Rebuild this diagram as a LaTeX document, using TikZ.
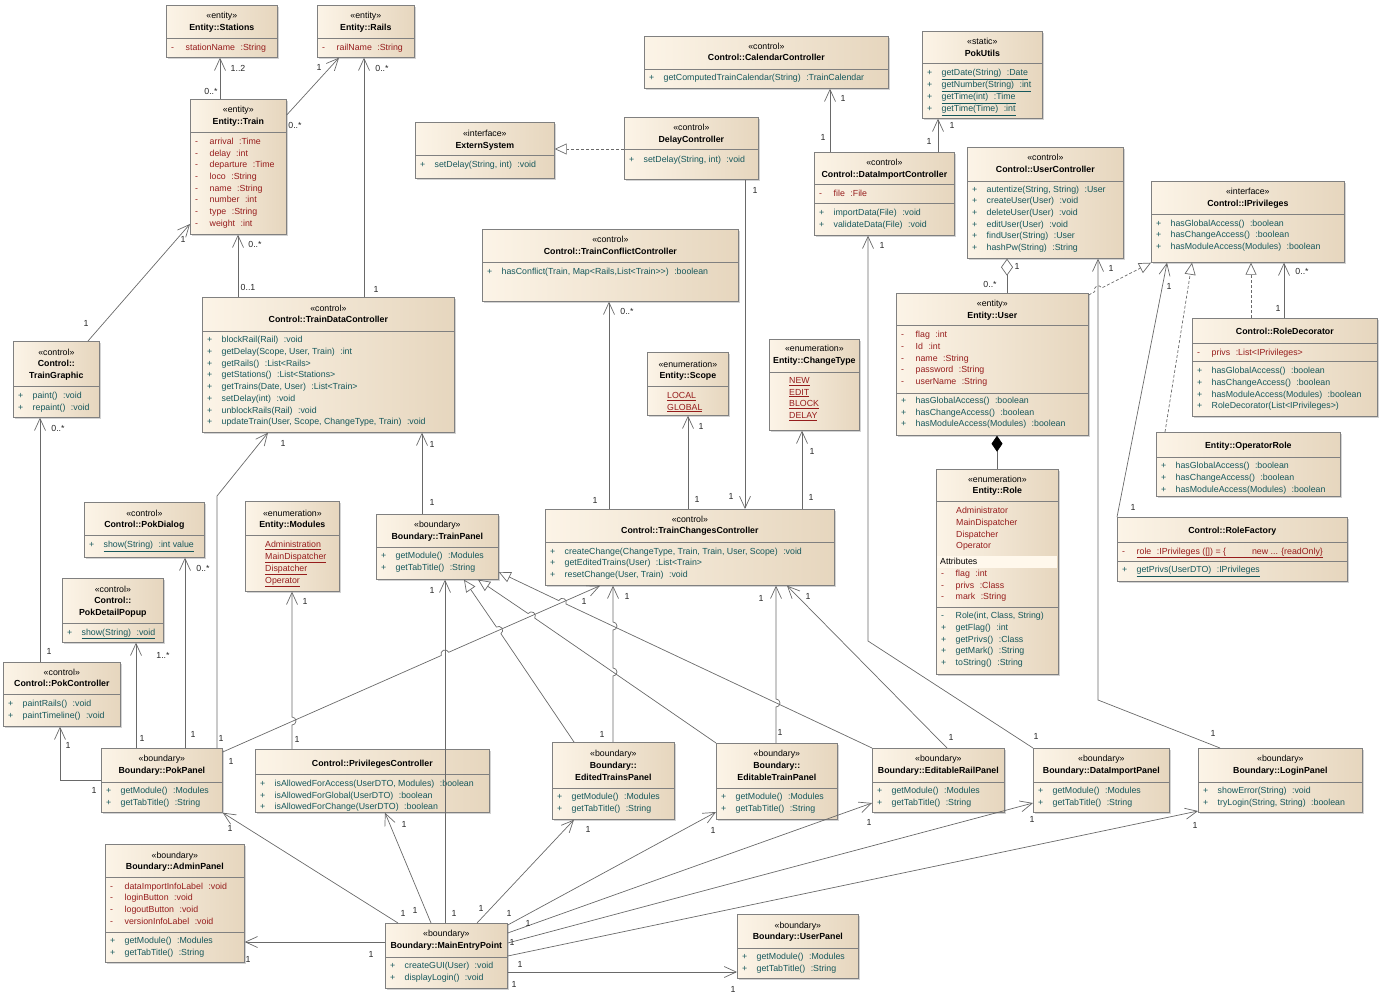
\documentclass[tikz,border=0pt]{standalone}
\usepackage{fontspec}
\setmainfont{Liberation Sans}
\usetikzlibrary{arrows.meta, shadows}

\definecolor{boxlight}{RGB}{252,244,231}
\definecolor{boxdark}{RGB}{230,214,190}
\definecolor{boxline}{RGB}{128,128,128}
\definecolor{linecol}{RGB}{105,105,105}
\definecolor{attrcol}{RGB}{150,28,28}
\definecolor{methcol}{RGB}{22,88,92}
\definecolor{bandcol}{RGB}{255,248,236}

% member line, visibility column + text
\newcommand{\vis}[2]{\makebox[14.5pt][l]{#1}#2}
\newcommand{\ty}[1]{\hspace{5.5pt}:#1}
\newcommand{\ctab}[1]{\begin{tabular}{@{}c@{}}#1\end{tabular}}
\newcommand{\ltab}[1]{\begin{tabular}{@{}l@{}}#1\end{tabular}}
% class box from (x1,y1) to (x2,y2)
\newcommand{\umlbox}[5]{\node[classbox, minimum width={#4-#2}, minimum height={#5-#3}] (#1) at (#2,#3) {};}
\newcommand{\compline}[2]{\draw[sepl] (#1.west |- 0,#2) -- (#1.east |- 0,#2);}

\tikzset{
  every node/.style={font=\fontsize{8.8}{11.7}\selectfont},
  classbox/.style={anchor=north west, inner sep=0, draw=boxline, line width=0.7pt,
    left color=boxlight, right color=boxdark,
    drop shadow={shadow xshift=1.5pt, shadow yshift=-1.5pt, opacity=0.35}},
  hdr/.style={anchor=north, inner sep=0},
  attr/.style={anchor=north west, inner sep=0, text=attrcol},
  meth/.style={anchor=north west, inner sep=0, text=methcol},
  mult/.style={inner sep=0, text=black!85},
  sepl/.style={draw=boxline, line width=0.6pt},
  assoc/.style={draw=linecol, line width=0.7pt, -{Straight Barb[length=12pt,width=11pt]}},
  gen/.style={draw=linecol, line width=0.7pt, -{Triangle[open,length=12pt,width=11pt]}},
  real/.style={gen, dash pattern=on 3pt off 2pt},
  aggr/.style={draw=linecol, line width=0.7pt, {Diamond[open,length=17pt,width=12pt]}-},
  comp/.style={draw=linecol, line width=0.7pt, {Diamond[length=16pt,width=11pt,fill=black,color=black]}-},
}

\begin{document}
\begin{tikzpicture}[x=1pt, y=-1pt]
\useasboundingbox (0,0) rectangle (1380,998);

% entity classes
\umlbox{stations}{166}{5}{277}{57}
\node[hdr] (stationsH) at (stations.north |- 0,10.5) {\ctab{«entity»\\\textbf{Entity::Stations}}};
\compline{stations}{38}
\node[attr] (stationsA) at (171,41.8) {\ltab{\vis{-}{stationName\ty{String}}}};

\umlbox{rails}{317}{5}{414}{57}
\node[hdr] (railsH) at (rails.north |- 0,10.5) {\ctab{«entity»\\\textbf{Entity::Rails}}};
\compline{rails}{38}
\node[attr] (railsA) at (322,41.8) {\ltab{\vis{-}{railName\ty{String}}}};

\umlbox{train}{190}{99}{286}{234}
\node[hdr] (trainH) at (train.north |- 0,104.1) {\ctab{«entity»\\\textbf{Entity::Train}}};
\compline{train}{132}
\node[attr] (trainA) at (195,136.1) {\ltab{\vis{-}{arrival\ty{Time}}\\\vis{-}{delay\ty{int}}\\\vis{-}{departure\ty{Time}}\\\vis{-}{loco\ty{String}}\\\vis{-}{name\ty{String}}\\\vis{-}{number\ty{int}}\\\vis{-}{type\ty{String}}\\\vis{-}{weight\ty{int}}}};

\umlbox{tgraphic}{13}{341}{99}{417}
\node[hdr] (tgraphicH) at (tgraphic.north |- 0,346.8) {\ctab{«control»\\\textbf{Control::}\\\textbf{TrainGraphic}}};
\compline{tgraphic}{386}
\node[meth] (tgraphicM) at (18,390.1) {\ltab{\vis{+}{paint()\ty{void}}\\\vis{+}{repaint()\ty{void}}}};

\umlbox{tdc}{202}{297}{454}{432}
\node[hdr] (tdcH) at (tdc.north |- 0,302.8) {\ctab{«control»\\\textbf{Control::TrainDataController}}};
\compline{tdc}{331}
\node[meth] (tdcM) at (207,334.5) {\ltab{\vis{+}{blockRail(Rail)\ty{void}}\\\vis{+}{getDelay(Scope, User, Train)\ty{int}}\\\vis{+}{getRails()\ty{List<Rails>}}\\\vis{+}{getStations()\ty{List<Stations>}}\\\vis{+}{getTrains(Date, User)\ty{List<Train>}}\\\vis{+}{setDelay(int)\ty{void}}\\\vis{+}{unblockRails(Rail)\ty{void}}\\\vis{+}{updateTrain(User, Scope, ChangeType, Train)\ty{void}}}};

\umlbox{extern}{415}{122}{554}{178}
\node[hdr] (externH) at (extern.north |- 0,128.1) {\ctab{«interface»\\\textbf{ExternSystem}}};
\compline{extern}{155}
\node[meth] (externM) at (420,159.1) {\ltab{\vis{+}{setDelay(String, int)\ty{void}}}};

\umlbox{delay}{624}{117}{758}{179}
\node[hdr] (delayH) at (delay.north |- 0,122.5) {\ctab{«control»\\\textbf{DelayController}}};
\compline{delay}{149}
\node[meth] (delayM) at (629,153.8) {\ltab{\vis{+}{setDelay(String, int)\ty{void}}}};

\umlbox{conflict}{482}{229}{738}{301}
\node[hdr] (conflictH) at (conflict.north |- 0,234.5) {\ctab{«control»\\\textbf{Control::TrainConflictController}}};
\compline{conflict}{262}
\node[meth] (conflictM) at (487,265.8) {\ltab{\vis{+}{hasConflict(Train, Map<Rails,List<Train>{}>)\ty{boolean}}}};

\umlbox{calendar}{644}{36}{888}{88}
\node[hdr] (calendarH) at (calendar.north |- 0,40.8) {\ctab{«control»\\\textbf{Control::CalendarController}}};
\compline{calendar}{69}
\node[meth] (calendarM) at (649,72.5) {\ltab{\vis{+}{getComputedTrainCalendar(String)\ty{TrainCalendar}}}};

\umlbox{pokutils}{922}{31}{1042}{118}
\node[hdr] (pokutilsH) at (pokutils.north |- 0,36.1) {\ctab{«static»\\\textbf{PokUtils}}};
\compline{pokutils}{63}
\node[meth] (pokutilsM) at (927,67.1) {\ltab{\vis{+}{\underline{getDate(String)\ty{Date}}}\\\vis{+}{\underline{getNumber(String)\ty{int}}}\\\vis{+}{\underline{getTime(int)\ty{Time}}}\\\vis{+}{\underline{getTime(Time)\ty{int}}}}};

\umlbox{dic}{814}{152}{954}{235}
\node[hdr] (dicH) at (dic.north |- 0,157.5) {\ctab{«control»\\\textbf{Control::DataImportController}}};
\compline{dic}{184}
\compline{dic}{203}
\node[attr] (dicA) at (819,188.5) {\ltab{\vis{-}{file\ty{File}}}};
\node[meth] (dicM) at (819,207.5) {\ltab{\vis{+}{importData(File)\ty{void}}\\\vis{+}{validateData(File)\ty{void}}}};

\umlbox{userctrl}{967}{147}{1123}{258}
\node[hdr] (userctrlH) at (userctrl.north |- 0,152.3) {\ctab{«control»\\\textbf{Control::UserController}}};
\compline{userctrl}{181}
\node[meth] (userctrlM) at (972,183.8) {\ltab{\vis{+}{autentize(String, String)\ty{User}}\\\vis{+}{createUser(User)\ty{void}}\\\vis{+}{deleteUser(User)\ty{void}}\\\vis{+}{editUser(User)\ty{void}}\\\vis{+}{findUser(String)\ty{User}}\\\vis{+}{hashPw(String)\ty{String}}}};

\umlbox{user}{896}{293}{1088}{435}
\node[hdr] (userH) at (user.north |- 0,298.1) {\ctab{«entity»\\\textbf{Entity::User}}};
\compline{user}{325}
\compline{user}{393}
\node[attr] (userA) at (901,329.5) {\ltab{\vis{-}{flag\ty{int}}\\\vis{-}{Id\ty{int}}\\\vis{-}{name\ty{String}}\\\vis{-}{password\ty{String}}\\\vis{-}{userName\ty{String}}}};
\node[meth] (userM) at (901,395.1) {\ltab{\vis{+}{hasGlobalAccess()\ty{boolean}}\\\vis{+}{hasChangeAccess()\ty{boolean}}\\\vis{+}{hasModuleAccess(Modules)\ty{boolean}}}};

\umlbox{iprivs}{1151}{181}{1344}{262}
\node[hdr] (iprivsH) at (iprivs.north |- 0,186.5) {\ctab{«interface»\\\textbf{Control::IPrivileges}}};
\compline{iprivs}{214}
\node[meth] (iprivsM) at (1156,217.8) {\ltab{\vis{+}{hasGlobalAccess()\ty{boolean}}\\\vis{+}{hasChangeAccess()\ty{boolean}}\\\vis{+}{hasModuleAccess(Modules)\ty{boolean}}}};

\umlbox{rdeco}{1192}{318}{1377}{416}
\node[hdr] (rdecoH) at (rdeco.north |- 0,325.8) {\ctab{\textbf{Control::RoleDecorator}}};
\compline{rdeco}{343}
\compline{rdeco}{361}
\node[attr] (rdecoA) at (1197,346.8) {\ltab{\vis{-}{privs\ty{List<IPrivileges>}}}};
\node[meth] (rdecoM) at (1197,365.5) {\ltab{\vis{+}{hasGlobalAccess()\ty{boolean}}\\\vis{+}{hasChangeAccess()\ty{boolean}}\\\vis{+}{hasModuleAccess(Modules)\ty{boolean}}\\\vis{+}{RoleDecorator(List<IPrivileges>)}}};

\umlbox{oprole}{1156}{432}{1340}{496}
\node[hdr] (oproleH) at (oprole.north |- 0,440.5) {\ctab{\textbf{Entity::OperatorRole}}};
\compline{oprole}{457}
\node[meth] (oproleM) at (1161,460.5) {\ltab{\vis{+}{hasGlobalAccess()\ty{boolean}}\\\vis{+}{hasChangeAccess()\ty{boolean}}\\\vis{+}{hasModuleAccess(Modules)\ty{boolean}}}};

\umlbox{rfactory}{1117}{517}{1347}{581}
\node[hdr] (rfactoryH) at (rfactory.north |- 0,525.5) {\ctab{\textbf{Control::RoleFactory}}};
\compline{rfactory}{542}
\compline{rfactory}{561}
\node[attr] (rfactoryA) at (1122,545.8) {\ltab{\vis{-}{\underline{role\ty{IPrivileges ([]) = \{\hspace{26pt}new ... \{readOnly\}}}}}};
\node[meth] (rfactoryM) at (1122,564.5) {\ltab{\vis{+}{\underline{getPrivs(UserDTO)\ty{IPrivileges}}}}};

\umlbox{role}{936}{469}{1058}{674}
\node[hdr] (roleH) at (role.north |- 0,473.8) {\ctab{«enumeration»\\\textbf{Entity::Role}}};
\compline{role}{501}
\node[attr] (roleL) at (956,505.5) {\ltab{Administrator\\MainDispatcher\\Dispatcher\\Operator}};
\fill[bandcol] (937,555.5) rectangle (1057,567.5);
\node[anchor=west, inner sep=0] (roleT) at (940,561.7) {Attributes};
\node[attr] (roleA) at (941,568.1) {\ltab{\vis{-}{flag\ty{int}}\\\vis{-}{privs\ty{Class}}\\\vis{-}{mark\ty{String}}}};
\compline{role}{607}
\node[meth] (roleM) at (941,610.5) {\ltab{\vis{-}{Role(int, Class, String)}\\\vis{+}{getFlag()\ty{int}}\\\vis{+}{getPrivs()\ty{Class}}\\\vis{+}{getMark()\ty{String}}\\\vis{+}{toString()\ty{String}}}};

\umlbox{ctype}{769}{339}{859}{430}
\node[hdr] (ctypeH) at (ctype.north |- 0,343.5) {\ctab{«enumeration»\\\textbf{Entity::ChangeType}}};
\compline{ctype}{372}
\node[attr] (ctypeL) at (789,375.1) {\ltab{\underline{NEW}\\\underline{EDIT}\\\underline{BLOCK}\\\underline{DELAY}}};

\umlbox{scope}{647}{352}{728}{415}
\node[hdr] (scopeH) at (scope.north |- 0,358.8) {\ctab{«enumeration»\\\textbf{Entity::Scope}}};
\compline{scope}{386}
\node[attr] (scopeL) at (667,390.1) {\ltab{\underline{LOCAL}\\\underline{GLOBAL}}};

\umlbox{tcc}{545}{509}{834}{585}
\node[hdr] (tccH) at (tcc.north |- 0,513.8) {\ctab{«control»\\\textbf{Control::TrainChangesController}}};
\compline{tcc}{542}
\node[meth] (tccM) at (550,545.8) {\ltab{\vis{+}{createChange(ChangeType, Train, Train, User, Scope)\ty{void}}\\\vis{+}{getEditedTrains(User)\ty{List<Train>}}\\\vis{+}{resetChange(User, Train)\ty{void}}}};

\umlbox{modules}{245}{501}{339}{591}
\node[hdr] (modulesH) at (modules.north |- 0,507.8) {\ctab{«enumeration»\\\textbf{Entity::Modules}}};
\compline{modules}{535}
\node[attr] (modulesL) at (265,539.1) {\ltab{\underline{Administration}\\\underline{MainDispatcher}\\\underline{Dispatcher}\\\underline{Operator}}};

\umlbox{pokdialog}{84}{502}{204}{557}
\node[hdr] (pokdialogH) at (pokdialog.north |- 0,507.8) {\ctab{«control»\\\textbf{Control::PokDialog}}};
\compline{pokdialog}{535}
\node[meth] (pokdialogM) at (89,539.1) {\ltab{\vis{+}{\underline{show(String)\ty{int value}}}}};

\umlbox{popup}{62}{578}{163}{642}
\node[hdr] (popupH) at (popup.north |- 0,583.8) {\ctab{«control»\\\textbf{Control::}\\\textbf{PokDetailPopup}}};
\compline{popup}{623}
\node[meth] (popupM) at (67,626.8) {\ltab{\vis{+}{\underline{show(String)\ty{void}}}}};

\umlbox{trainpanel}{376}{514}{498}{579}
\node[hdr] (trainpanelH) at (trainpanel.north |- 0,519.5) {\ctab{«boundary»\\\textbf{Boundary::TrainPanel}}};
\compline{trainpanel}{547}
\node[meth] (trainpanelM) at (381,550.5) {\ltab{\vis{+}{getModule()\ty{Modules}}\\\vis{+}{getTabTitle()\ty{String}}}};

\umlbox{pokctrl}{3}{662}{120}{726}
\node[hdr] (pokctrlH) at (pokctrl.north |- 0,666.8) {\ctab{«control»\\\textbf{Control::PokController}}};
\compline{pokctrl}{694}
\node[meth] (pokctrlM) at (8,698.1) {\ltab{\vis{+}{paintRails()\ty{void}}\\\vis{+}{paintTimeline()\ty{void}}}};

\umlbox{pokpanel}{101}{748}{222}{812}
\node[hdr] (pokpanelH) at (pokpanel.north |- 0,753.1) {\ctab{«boundary»\\\textbf{Boundary::PokPanel}}};
\compline{pokpanel}{782}
\node[meth] (pokpanelM) at (106,785.1) {\ltab{\vis{+}{getModule()\ty{Modules}}\\\vis{+}{getTabTitle()\ty{String}}}};

\umlbox{privctrl}{255}{749}{489}{812}
\node[hdr] (privctrlH) at (privctrl.north |- 0,758.1) {\ctab{\textbf{Control::PrivilegesController}}};
\compline{privctrl}{774}
\node[meth] (privctrlM) at (260,778.1) {\ltab{\vis{+}{isAllowedForAccess(UserDTO, Modules)\ty{boolean}}\\\vis{+}{isAllowedForGlobal(UserDTO)\ty{boolean}}\\\vis{+}{isAllowedForChange(UserDTO)\ty{boolean}}}};

\umlbox{admin}{105}{844}{244}{962}
\node[hdr] (adminH) at (admin.north |- 0,849.8) {\ctab{«boundary»\\\textbf{Boundary::AdminPanel}}};
\compline{admin}{877}
\compline{admin}{932}
\node[attr] (adminA) at (110,880.8) {\ltab{\vis{-}{dataImportInfoLabel\ty{void}}\\\vis{-}{loginButton\ty{void}}\\\vis{-}{logoutButton\ty{void}}\\\vis{-}{versionInfoLabel\ty{void}}}};
\node[meth] (adminM) at (110,935.1) {\ltab{\vis{+}{getModule()\ty{Modules}}\\\vis{+}{getTabTitle()\ty{String}}}};

\umlbox{mep}{385}{923}{507}{988}
\node[hdr] (mepH) at (mep.north |- 0,928.5) {\ctab{«boundary»\\\textbf{Boundary::MainEntryPoint}}};
\compline{mep}{957}
\node[meth] (mepM) at (390,960.1) {\ltab{\vis{+}{createGUI(User)\ty{void}}\\\vis{+}{displayLogin()\ty{void}}}};

\umlbox{edited}{552}{742}{674}{819}
\node[hdr] (editedH) at (edited.north |- 0,748.5) {\ctab{«boundary»\\\textbf{Boundary::}\\\textbf{EditedTrainsPanel}}};
\compline{edited}{788}
\node[meth] (editedM) at (557,791.5) {\ltab{\vis{+}{getModule()\ty{Modules}}\\\vis{+}{getTabTitle()\ty{String}}}};

\umlbox{etrain}{716}{743}{837}{819}
\node[hdr] (etrainH) at (etrain.north |- 0,748.5) {\ctab{«boundary»\\\textbf{Boundary::}\\\textbf{EditableTrainPanel}}};
\compline{etrain}{788}
\node[meth] (etrainM) at (721,791.5) {\ltab{\vis{+}{getModule()\ty{Modules}}\\\vis{+}{getTabTitle()\ty{String}}}};

\umlbox{erail}{872}{748}{1004}{812}
\node[hdr] (erailH) at (erail.north |- 0,753.1) {\ctab{«boundary»\\\textbf{Boundary::EditableRailPanel}}};
\compline{erail}{782}
\node[meth] (erailM) at (877,785.1) {\ltab{\vis{+}{getModule()\ty{Modules}}\\\vis{+}{getTabTitle()\ty{String}}}};

\umlbox{dimport}{1033}{748}{1169}{812}
\node[hdr] (dimportH) at (dimport.north |- 0,753.1) {\ctab{«boundary»\\\textbf{Boundary::DataImportPanel}}};
\compline{dimport}{782}
\node[meth] (dimportM) at (1038,785.1) {\ltab{\vis{+}{getModule()\ty{Modules}}\\\vis{+}{getTabTitle()\ty{String}}}};

\umlbox{login}{1198}{748}{1362}{812}
\node[hdr] (loginH) at (login.north |- 0,753.1) {\ctab{«boundary»\\\textbf{Boundary::LoginPanel}}};
\compline{login}{782}
\node[meth] (loginM) at (1203,785.1) {\ltab{\vis{+}{showError(String)\ty{void}}\\\vis{+}{tryLogin(String, String)\ty{boolean}}}};

\umlbox{userpanel}{737}{914}{858}{978}
\node[hdr] (userpanelH) at (userpanel.north |- 0,919.8) {\ctab{«boundary»\\\textbf{Boundary::UserPanel}}};
\compline{userpanel}{948}
\node[meth] (userpanelM) at (742,951.5) {\ltab{\vis{+}{getModule()\ty{Modules}}\\\vis{+}{getTabTitle()\ty{String}}}};

% connectors, upper part
\draw[assoc] (train.north -| 220,0) -- (stations.south -| 220,0);
\draw[assoc] (train.east |- 0,115) -- (rails.south -| 339,0);
\draw[assoc] (tgraphic.north -| 88,0) -- (train.west |- 0,224);
\draw[assoc] (tdc.north -| 238,0) -- (train.south -| 238,0);
\draw[assoc] (tdc.north -| 364,0) -- (rails.south -| 364,0);
\draw[real] (delay.west |- 0,149) -- (extern.east |- 0,149);
\draw[assoc] (tcc.north -| 609,0) -- (conflict.south -| 609,0);
\draw[assoc] (delay.south -| 745,0) -- (tcc.north -| 745,0);
\draw[assoc] (tcc.north -| 688,0) -- (scope.south -| 688,0);
\draw[assoc] (tcc.north -| 802,0) -- (ctype.south -| 802,0);
\draw[assoc] (dic.north -| 830,0) -- (calendar.south -| 830,0);
\draw[assoc] (dic.north -| 938,0) -- (pokutils.south -| 938,0);
\draw[aggr] (userctrl.south -| 1007,0) -- (user.north -| 1007,0);
\draw[comp] (user.south -| 997,0) -- (role.north -| 997,0);
\draw[real] (user.east |- 0,295) -- (1094.8,291.6) arc[start angle=207.9, end angle=27.9, radius=4pt] -- (iprivs.south west);
\draw[assoc] (login.north -| 1220,0) -- (1098,700) -- (userctrl.south -| 1098,0);
\draw[assoc] (rfactory.north west) -- (iprivs.south -| 1167,0);
\draw[real] (oprole.north -| 1165,0) -- (iprivs.south -| 1192,0);
\draw[real] (rdeco.north -| 1251,0) -- (iprivs.south -| 1251,0);
\draw[assoc] (rdeco.north -| 1284,0) -- (iprivs.south -| 1284,0);
\draw[assoc] (dimport.north west) -- (868,641) -- (dic.south -| 868,0);

% panels to the change controller
\draw[assoc] (erail.north -| 947,0) -- (tcc.south -| 787,0);
\draw[assoc] (etrain.north -| 776,0) -- (776,707) arc[start angle=-90, end angle=90, radius=4pt] -- (tcc.south -| 776,0);
\draw[assoc] (edited.north -| 613,0) -- (613,676) arc[start angle=-90, end angle=90, radius=4pt]
  -- (613,630) arc[start angle=-90, end angle=90, radius=4pt] -- (tcc.south -| 613,0);
\draw[assoc] (pokpanel.east |- 0,752) -- (441.3,655.5) arc[start angle=203.75, end angle=23.75, radius=4pt] -- (tcc.south -| 600,0);

% generalizations to TrainPanel
\draw[gen] (edited.north -| 574,0) -- (500.9,633.7) arc[start angle=-56, end angle=124, radius=4pt] -- (trainpanel.south -| 464,0);
\draw[gen] (etrain.north west) -- (534.7,618.1) arc[start angle=-34.6, end angle=145.4, radius=4pt] -- (trainpanel.south -| 478,0);
\draw[gen] (erail.north west) -- (566.0,604.0) arc[start angle=-25.2, end angle=154.8, radius=4pt] -- (trainpanel.east |- 0,572);

% PokPanel links
\draw[assoc] (pokpanel.west |- 0,780) -- (60,780) -- (pokctrl.south -| 60,0);
\draw[assoc] (pokpanel.north -| 136,0) -- (popup.south -| 136,0);
\draw[assoc] (pokpanel.north -| 185,0) -- (pokdialog.south -| 185,0);
\draw[assoc] (pokpanel.north -| 217,0) -- (217,496) -- (tdc.south -| 268,0);
\draw[assoc] (pokctrl.north -| 40,0) -- (tgraphic.south -| 40,0);
\draw[assoc] (privctrl.north -| 292,0) -- (292,725) arc[start angle=-90, end angle=90, radius=4pt] -- (modules.south -| 292,0);
\draw[assoc] (trainpanel.north -| 422,0) -- (tdc.south -| 422,0);
\draw[assoc] (mep.north -| 445,0) -- (trainpanel.south -| 445,0);

% MainEntryPoint links
\draw[assoc] (mep.west |- 0,942) -- (admin.east |- 0,942);
\draw[assoc] (mep.north -| 398,0) -- (pokpanel.south east);
\draw[assoc] (mep.north -| 431,0) -- (privctrl.south -| 385,0);
\draw[assoc] (mep.north -| 477,0) -- (edited.south -| 574,0);
\draw[assoc] (mep.east |- 0,925) -- (etrain.west |- 0,812);
\draw[assoc] (mep.east |- 0,933) -- (erail.west |- 0,803);
\draw[assoc] (mep.east |- 0,943) -- (dimport.west |- 0,803);
\draw[assoc] (mep.east |- 0,956) -- (login.west |- 0,811);
\draw[assoc] (mep.east |- 0,972) -- (userpanel.west |- 0,972);

% multiplicities
\foreach \x/\y/\lab [count=\i] in {238/68/1..2, 211/91/0..*, 319/67/1, 295/125/0..*, 183/239/1,
  255/244/0..*, 248/287/0..1, 86/323/1, 382/68/0..*, 376/289/1, 627/311/0..*, 843/98/1,
  823/137/1, 952/125/1, 929/141/1, 755/190/1, 882/245/1, 1017/266/1, 990/284/0..*, 1111/268/1,
  1169/286/1, 1302/271/0..*, 1278/308/1, 58/428/0..*, 283/443/1, 203/568/0..*, 305/601/1,
  163/655/1..*, 49/651/1, 432/444/1, 432/502/1, 595/500/1, 432/590/1, 584/601/1, 627/596/1,
  701/426/1, 812/451/1, 697/499/1, 731/496/1, 811/497/1, 761/598/1, 808/596/1, 1133/507/1,
  142/738/1, 193/734/1, 221/738/1, 68/745/1, 297/739/1, 231/761/1, 94/790/1, 230/828/1,
  248/959/1, 404/824/1, 602/734/1, 588/829/1, 403/913/1, 415/910/1, 454/913/1, 481/908/1,
  509/913/1, 528/923/1, 512/942/1, 371/954/1, 520/964/1, 514/984/1, 780/732/1, 951/737/1,
  713/830/1, 869/822/1, 1032/819/1, 733/989/1, 1213/733/1, 1195/825/1, 1036/736/1}
  \node[mult] (m\i) at (\x,\y) {\lab};

\end{tikzpicture}
\end{document}
